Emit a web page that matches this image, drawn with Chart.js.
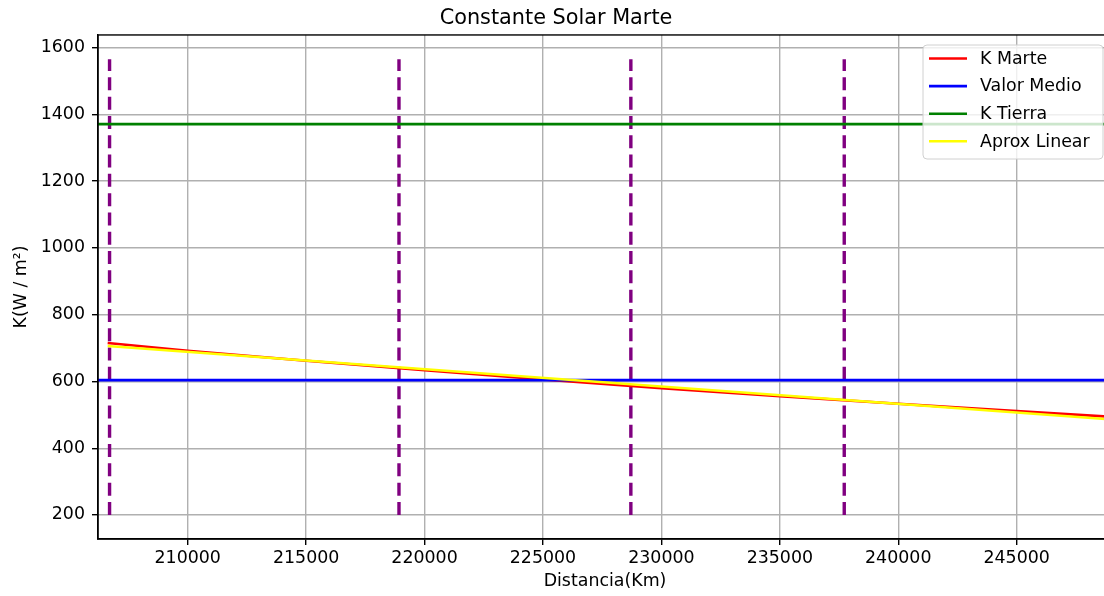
<!DOCTYPE html>
<html>
<head>
<meta charset="utf-8">
<script src="https://cdn.jsdelivr.net/npm/chart.js@4/dist/chart.umd.min.js"></script>
<style>
  html, body { margin: 0; padding: 0; background: #fff; }
  #wrap { width: 1104px; height: 596px; overflow: hidden; }
</style>
</head>
<body>
<div id="wrap"><canvas id="myChart" width="1112" height="596"></canvas></div>
<script>
// data
const xTicks = [210000, 215000, 220000, 225000, 230000, 235000, 240000, 245000];
const yTicks = [200, 400, 600, 800, 1000, 1200, 1400, 1600];

// K Marte (distance -> W/m2)
const marteX = [206620, 210000, 215000, 220000, 225000, 230000, 235000, 240000, 245000, 249230];
const marteY = [715, 692, 662, 634, 606, 580, 556, 533, 511, 493];

// linear approximation
const linearX = [206620, 249230];
const linearY = [706, 485];

// horizontal references
const medioValue = 604;
const tierraValue = 1371;

// vertical dashed markers
const markerX = [206700, 218920, 228710, 237720];
const markerTop = 1565;
const markerBottom = 200;

const xMin = 206212, xMax = 249025;
const yMin = 128, yMax = 1638;

const FONT = "'DejaVu Sans', sans-serif";

function pts(xs, ys) {
  return xs.map((x, i) => ({ x: x, y: ys[i] }));
}

const datasets = [];
// vertical lines
markerX.forEach(function (mx) {
  datasets.push({
    label: "marker",
    data: [{ x: mx, y: markerBottom }, { x: mx, y: markerTop }],
    borderColor: "#800080",
    borderWidth: 3.4,
    borderDash: [13, 6.3],
    order: 5
  });
});
datasets.push({
  label: "K Marte",
  data: pts(marteX, marteY),
  borderColor: "#ff0000",
  borderWidth: 2.6,
  order: 4
});
datasets.push({
  label: "Valor Medio",
  data: [{ x: xMin, y: medioValue }, { x: xMax, y: medioValue }],
  borderColor: "#0000ff",
  borderWidth: 2.6,
  order: 3
});
datasets.push({
  label: "K Tierra",
  data: [{ x: xMin, y: tierraValue }, { x: xMax, y: tierraValue }],
  borderColor: "#008000",
  borderWidth: 2.6,
  order: 2
});
datasets.push({
  label: "Aprox Linear",
  data: pts(linearX, linearY),
  borderColor: "#ffff00",
  borderWidth: 2.6,
  order: 1
});

const legendItems = [
  { text: "K Marte", color: "#ff0000" },
  { text: "Valor Medio", color: "#0000ff" },
  { text: "K Tierra", color: "#008000" },
  { text: "Aprox Linear", color: "#ffff00" }
];

// spines + legend drawn inside the axes, matplotlib style
const framePlugin = {
  id: "frame",
  afterDatasetsDraw(chart) {
    const ctx = chart.ctx;
    const a = chart.chartArea;
    ctx.save();
    ctx.strokeStyle = "#000";
    ctx.lineWidth = 1.4;
    ctx.strokeRect(a.left, a.top, a.right - a.left, a.bottom - a.top);

    // legend box
    const bx = 923, by = 45, bw = 180, bh = 114, r = 4;
    ctx.beginPath();
    ctx.moveTo(bx + r, by);
    ctx.arcTo(bx + bw, by, bx + bw, by + bh, r);
    ctx.arcTo(bx + bw, by + bh, bx, by + bh, r);
    ctx.arcTo(bx, by + bh, bx, by, r);
    ctx.arcTo(bx, by, bx + bw, by, r);
    ctx.closePath();
    ctx.fillStyle = "rgba(255,255,255,0.8)";
    ctx.fill();
    ctx.strokeStyle = "#d0d0d0";
    ctx.lineWidth = 1;
    ctx.stroke();

    ctx.font = "17.4px " + FONT;
    ctx.textBaseline = "middle";
    ctx.textAlign = "left";
    legendItems.forEach(function (it, i) {
      const y = 59.3 + i * 27.6;
      ctx.strokeStyle = it.color;
      ctx.lineWidth = 2.6;
      ctx.beginPath();
      ctx.moveTo(929, y - 0.8);
      ctx.lineTo(967, y - 0.8);
      ctx.stroke();
      ctx.fillStyle = "#000";
      ctx.fillText(it.text, 980, y);
    });
    ctx.restore();
  }
};

const ctx = document.getElementById("myChart");
const myChart = new Chart(ctx, {
  type: "line",
  data: { datasets: datasets },
  options: {
    responsive: false,
    animation: false,
    devicePixelRatio: 1,
    layout: { padding: 0 },
    elements: { point: { radius: 0 }, line: { tension: 0 } },
    plugins: {
      legend: { display: false },
      tooltip: { enabled: false },
      title: {
        display: true,
        text: "Constante Solar Marte",
        color: "#000",
        font: { family: FONT, size: 20.8, weight: "normal" },
        padding: { top: 6, bottom: 4 }
      }
    },
    scales: {
      x: {
        type: "linear",
        min: xMin,
        max: xMax,
        afterBuildTicks: function (axis) {
          axis.ticks = xTicks.map(v => ({ value: v }));
        },
        afterFit: function (axis) { axis.height = 57; },
        ticks: {
          color: "#000",
          font: { family: FONT, size: 17.4 },
          padding: 3,
          maxRotation: 0,
          autoSkip: false,
          callback: v => String(v)
        },
        grid: {
          color: "#b0b0b0",
          lineWidth: 1.4,
          tickColor: "#000",
          tickLength: 6,
          tickWidth: 1.4
        },
        border: { display: true, color: "#000", width: 1.4 },
        title: {
          display: true,
          text: "Distancia(Km)",
          color: "#000",
          font: { family: FONT, size: 17.4 },
          padding: { top: 0, bottom: 4 }
        }
      },
      y: {
        type: "linear",
        min: yMin,
        max: yMax,
        afterBuildTicks: function (axis) {
          axis.ticks = yTicks.map(v => ({ value: v }));
        },
        afterFit: function (axis) { axis.width = 98; },
        ticks: {
          color: "#000",
          font: { family: FONT, size: 17.4 },
          padding: 7,
          autoSkip: false,
          callback: v => String(v)
        },
        grid: {
          color: "#b0b0b0",
          lineWidth: 1.4,
          tickColor: "#000",
          tickLength: 6,
          tickWidth: 1.4
        },
        border: { display: true, color: "#000", width: 1.4 },
        title: {
          display: true,
          text: "K(W / m²)",
          color: "#000",
          font: { family: FONT, size: 17.4 },
          padding: { top: 10.6, bottom: 0 }
        }
      }
    }
  },
  plugins: [framePlugin]
});
</script>
</body>
</html>
